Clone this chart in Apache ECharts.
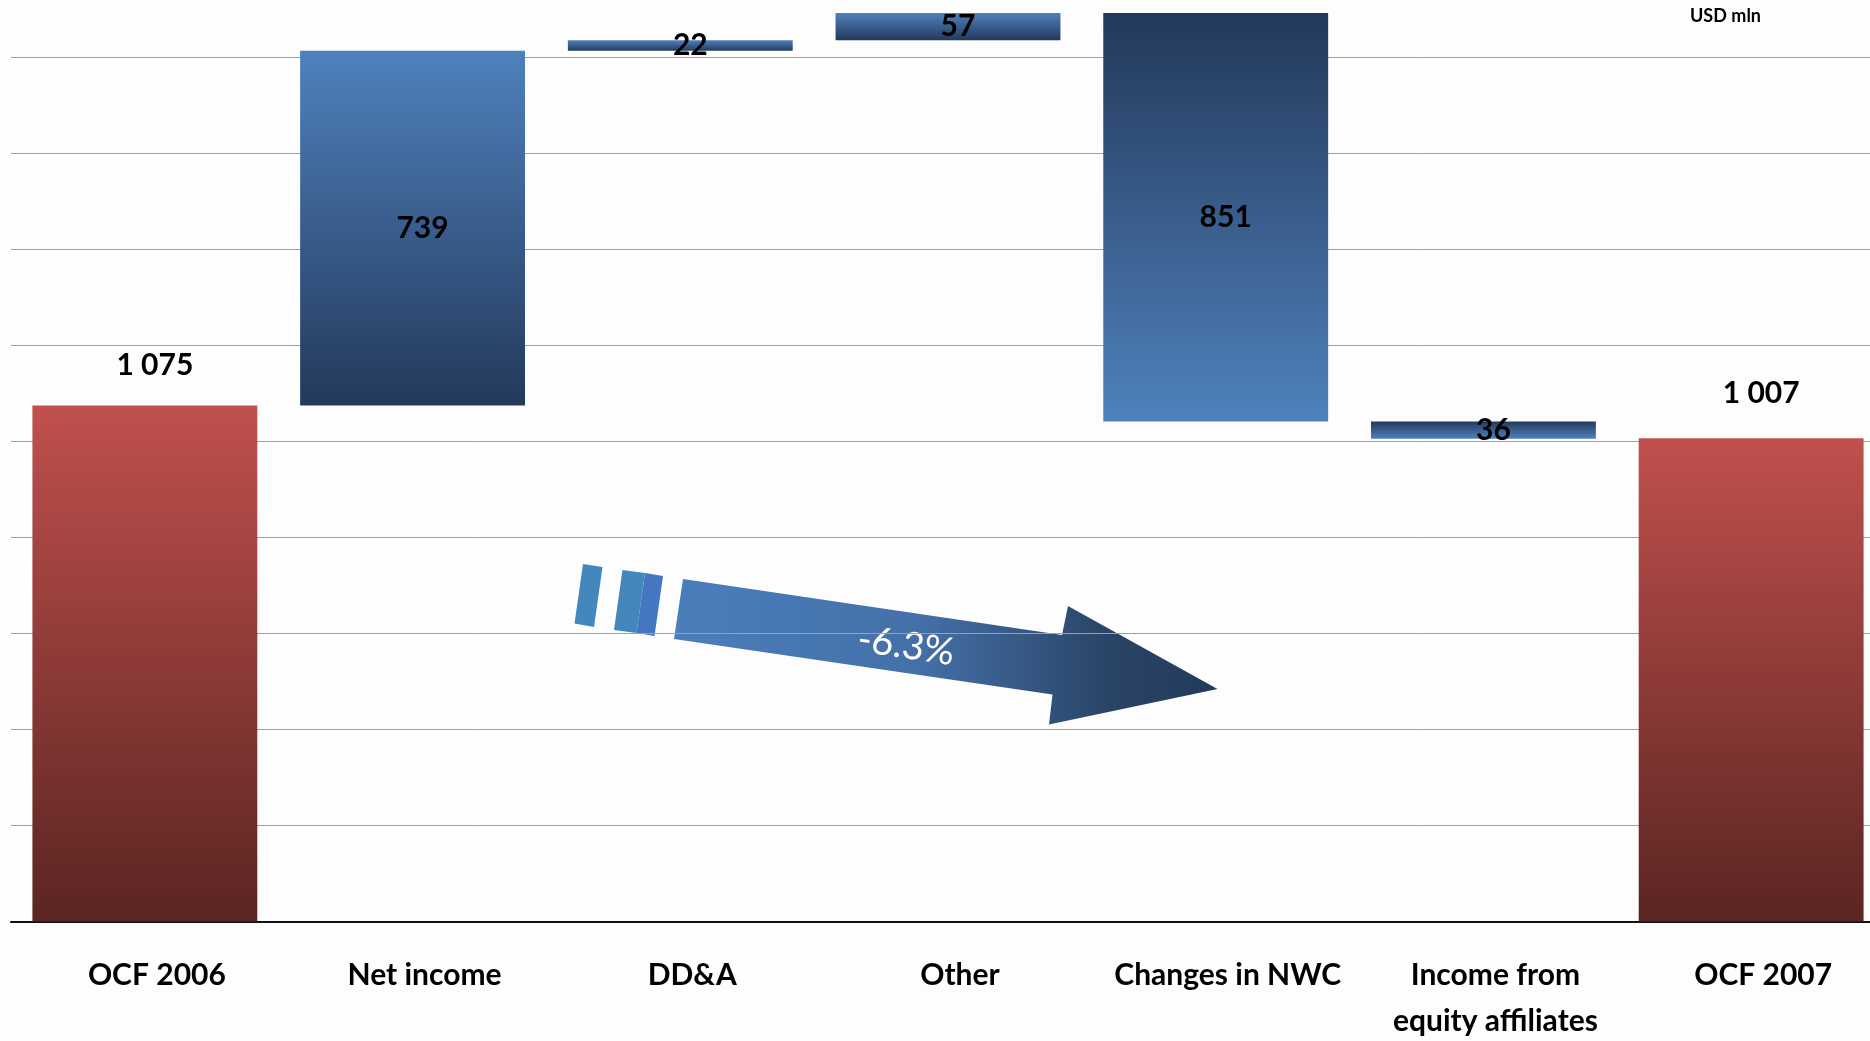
<!DOCTYPE html>
<html>
<head>
<meta charset="utf-8">
<script src="https://cdn.jsdelivr.net/npm/echarts@6/dist/echarts.min.js"></script>
<style>
html,body{margin:0;padding:0;background:#FDFDFD;overflow:hidden;}
#chart{width:1900px;height:1041px;}
</style>
</head>
<body>
<div id="chart"></div>
<script>
// ---- data ----
const categories = ['OCF 2006', 'Net income', 'DD&A', 'Other', 'Changes in NWC', 'Income from\nequity affiliates', 'OCF 2007'];
const changes = [1075, 739, 22, 57, -851, -36, 1007];
const kinds = ['total', 'up', 'up', 'up', 'down', 'down', 'total'];
const yMin = 0, yMax = 1920, yStep = 200;
const unitLabel = 'USD mln';
const trendLabel = '-6.3%';

// ---- styles ----
const grad = (top, bottom) => new echarts.graphic.LinearGradient(0, 0, 0, 1, [{offset: 0, color: top}, {offset: 1, color: bottom}]);
const redFill = grad('#C0504D', '#5A2522');
const upFill = grad('#4F81BD', '#23395A');
const downFill = grad('#23395A', '#4F81BD');
const fmt = v => String(Math.abs(v)).replace(/\B(?=(\d{3})+(?!\d))/g, ' ');

// waterfall bases
let running = 0;
const baseData = [], barData = [];
changes.forEach((v, i) => {
  let base;
  if (kinds[i] === 'total') { base = 0; running = v; }
  else if (v >= 0) { base = running; running += v; }
  else { running += v; base = running; }
  baseData.push(base);
  const isTotal = kinds[i] === 'total';
  barData.push({
    value: Math.abs(v),
    itemStyle: {color: isTotal ? redFill : (kinds[i] === 'up' ? upFill : downFill)},
    label: {
      position: isTotal ? 'top' : 'inside',
      distance: isTotal ? (i === 0 ? 25 : 30) : 5
    }
  });
});

const chart = echarts.init(document.getElementById('chart'));
chart.setOption({
  backgroundColor: '#FDFDFD',
  animation: false,
  grid: {left: 11, top: 0, width: 1874, height: 921.5, containLabel: false, outerBoundsMode: 'none'},
  xAxis: {
    type: 'category',
    data: categories,
    axisLine: {show: true, lineStyle: {color: '#111', width: 2}},
    axisTick: {show: false},
    axisLabel: {
      interval: 0, margin: 31,
      fontFamily: 'Lato', fontWeight: 'bold', fontSize: 30, color: '#000',
      lineHeight: 46, padding: [0, 0, 0, 24]
    }
  },
  yAxis: {
    type: 'value', min: yMin, max: yMax, interval: yStep,
    axisLabel: {show: false}, axisLine: {show: false}, axisTick: {show: false},
    splitLine: {show: true, showMaxLine: false, lineStyle: {color: '#A0A0A0', width: 1}}
  },
  series: [
    {
      type: 'bar', stack: 'w', data: baseData, silent: true,
      itemStyle: {color: 'rgba(0,0,0,0)'}, barCategoryGap: '16%'
    },
    {
      type: 'bar', stack: 'w', data: barData, barCategoryGap: '16%',
      label: {
        show: true, formatter: p => fmt(changes[p.dataIndex]),
        fontFamily: 'Lato', fontWeight: 'bold', fontSize: 30, color: '#000',
        offset: [10, 0]
      }
    }
  ],
  graphic: [
    {
      type: 'text', left: 1690, top: 7,
      style: {text: unitLabel, fontFamily: 'Lato', fontWeight: 'bold', fontSize: 18, fill: '#000'}
    },
    {
      type: 'polygon',
      shape: {points: [[583, 564], [602.5, 567], [594, 627], [574.5, 623.5]]},
      style: {fill: '#4487BD'}
    },
    {
      type: 'polygon',
      shape: {points: [[622.5, 570], [645, 573], [636.5, 633], [614, 630]]},
      style: {fill: '#4487BD'}
    },
    {
      type: 'polygon',
      shape: {points: [[645, 573], [663, 576], [654.5, 636], [636.5, 633]]},
      style: {fill: '#4577C0'}
    },
    {
      type: 'polygon',
      shape: {points: [[683, 579], [1062, 635], [1068, 606], [1217.5, 689], [1049, 724.5], [1052.5, 694.5], [674, 639]]},
      style: {
        fill: new echarts.graphic.LinearGradient(0, 0, 1, 0, [
          {offset: 0, color: '#4A7EBB'},
          {offset: 0.45, color: '#4470A8'},
          {offset: 0.8, color: '#2A4466'},
          {offset: 1, color: '#233A5A'}
        ])
      }
    },
    {
      type: 'text', x: 906, y: 646, rotation: -0.147,
      style: {text: trendLabel, fontFamily: 'Lato', fontSize: 38, fill: '#FFFFFF', align: 'center', verticalAlign: 'middle'}
    }
  ]
});
</script>
</body>
</html>
